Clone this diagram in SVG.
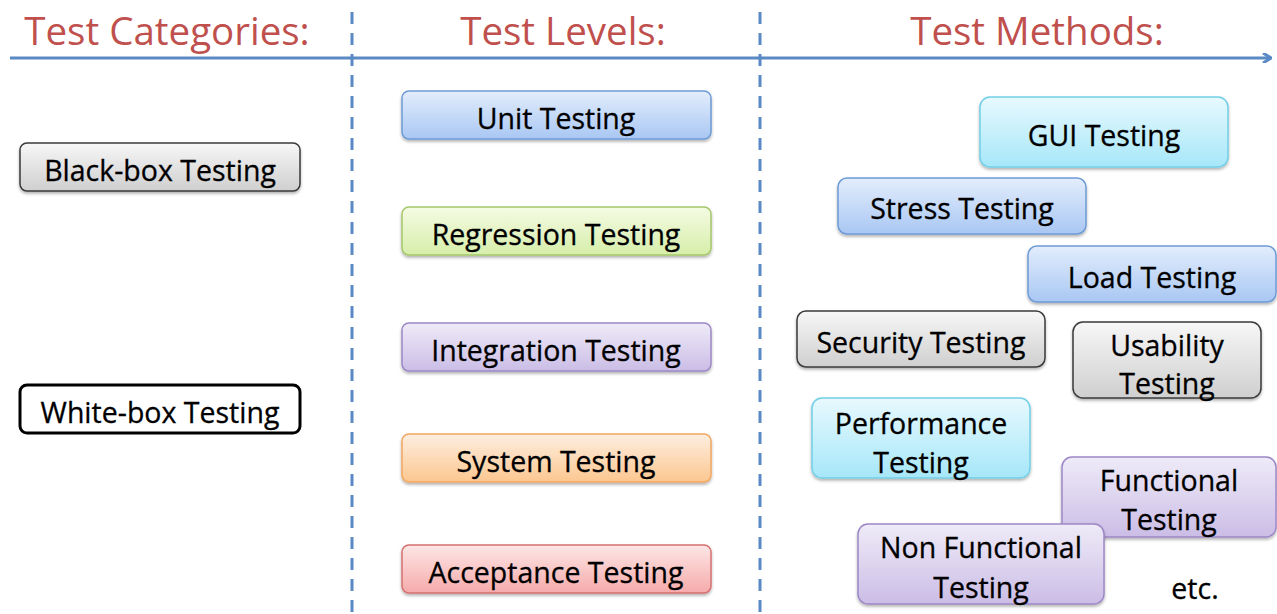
<svg xmlns="http://www.w3.org/2000/svg" width="1277" height="614" viewBox="0 0 1277 614">
<defs>
<linearGradient id="gGray" x1="0" y1="0" x2="0" y2="1"><stop offset="0" stop-color="#f7f7f7"/><stop offset="1" stop-color="#cfcfcf"/></linearGradient>
<linearGradient id="gBlue" x1="0" y1="0" x2="0" y2="1"><stop offset="0" stop-color="#e3edfc"/><stop offset="1" stop-color="#a9c7f3"/></linearGradient>
<linearGradient id="gGreen" x1="0" y1="0" x2="0" y2="1"><stop offset="0" stop-color="#f5fbe3"/><stop offset="1" stop-color="#d6eeaa"/></linearGradient>
<linearGradient id="gPurple" x1="0" y1="0" x2="0" y2="1"><stop offset="0" stop-color="#efebf8"/><stop offset="1" stop-color="#cbbde6"/></linearGradient>
<linearGradient id="gOrange" x1="0" y1="0" x2="0" y2="1"><stop offset="0" stop-color="#fdeee0"/><stop offset="1" stop-color="#fcc790"/></linearGradient>
<linearGradient id="gRed" x1="0" y1="0" x2="0" y2="1"><stop offset="0" stop-color="#fde6e6"/><stop offset="1" stop-color="#f6aaaa"/></linearGradient>
<linearGradient id="gCyan" x1="0" y1="0" x2="0" y2="1"><stop offset="0" stop-color="#e8f9fe"/><stop offset="1" stop-color="#a6e7f9"/></linearGradient>
<filter id="sh" x="-10%" y="-20%" width="120%" height="150%"><feDropShadow dx="0" dy="2" stdDeviation="1.5" flood-color="#000" flood-opacity="0.3"/></filter>
<marker id="arr" markerWidth="10" markerHeight="10" refX="8" refY="5" orient="auto" markerUnits="userSpaceOnUse"><path d="M1,0 L9,5 L1,10" fill="none" stroke="#5a8ac6" stroke-width="3"/></marker>
</defs>
<style>
.t{font-family:"Open Sans",Lato,"Liberation Sans",sans-serif;font-size:28.5px;fill:#000;stroke:#000;stroke-width:0.3;text-anchor:middle}
.h{font-family:"Open Sans",Lato,"Liberation Sans",sans-serif;font-size:38.5px;fill:#c0504d;text-anchor:middle}
.b{stroke-width:1.5}
.gray{fill:url(#gGray);stroke:#3a3a3a}
.blue{fill:url(#gBlue);stroke:#6e9bd6}
.green{fill:url(#gGreen);stroke:#a5c76a}
.purple{fill:url(#gPurple);stroke:#9d88c6}
.orange{fill:url(#gOrange);stroke:#f2a760}
.red{fill:url(#gRed);stroke:#d67070}
.cyan{fill:url(#gCyan);stroke:#72cfe5}
</style>
<rect width="1277" height="614" fill="#fff"/>
<g id="connectors" stroke="#5a8ac6" stroke-width="3" fill="none">
<line x1="10" y1="58" x2="1270" y2="58" marker-end="url(#arr)"/>
<line x1="352" y1="12" x2="352" y2="614" stroke-dasharray="12 9"/>
<line x1="760" y1="12" x2="760" y2="614" stroke-dasharray="12 9"/>
</g>
<g id="headers">
<text class="h" x="167" y="45">Test Categories:</text>
<text class="h" x="563" y="45">Test Levels:</text>
<text class="h" x="1037" y="45">Test Methods:</text>
</g>
<g id="black-box"><rect class="b gray" x="20" y="143" width="280" height="48" rx="7" filter="url(#sh)"/><text class="t" x="160" y="181">Black-box Testing</text></g>
<g id="white-box"><rect x="20" y="385" width="280" height="48" rx="7" fill="#fff" stroke="#000" stroke-width="3"/><text class="t" x="160" y="423">White-box Testing</text></g>
<g id="unit"><rect class="b blue" x="402" y="91" width="309" height="48" rx="7" filter="url(#sh)"/><text class="t" x="556" y="129">Unit Testing</text></g>
<g id="regression"><rect class="b green" x="402" y="207" width="309" height="48" rx="7" filter="url(#sh)"/><text class="t" x="556" y="245">Regression Testing</text></g>
<g id="integration"><rect class="b purple" x="402" y="323" width="309" height="48" rx="7" filter="url(#sh)"/><text class="t" x="556" y="361">Integration Testing</text></g>
<g id="system"><rect class="b orange" x="402" y="434" width="309" height="48" rx="7" filter="url(#sh)"/><text class="t" x="556" y="472">System Testing</text></g>
<g id="acceptance"><rect class="b red" x="402" y="545" width="309" height="48" rx="7" filter="url(#sh)"/><text class="t" x="556" y="583">Acceptance Testing</text></g>
<g id="gui"><rect class="b cyan" x="980" y="97" width="248" height="70" rx="10" filter="url(#sh)"/><text class="t" x="1104" y="146">GUI Testing</text></g>
<g id="stress"><rect class="b blue" x="838" y="178" width="248" height="56" rx="9" filter="url(#sh)"/><text class="t" x="962" y="219">Stress Testing</text></g>
<g id="load"><rect class="b blue" x="1028" y="246" width="248" height="56" rx="9" filter="url(#sh)"/><text class="t" x="1152" y="288">Load Testing</text></g>
<g id="security"><rect class="b gray" x="797" y="311" width="248" height="56" rx="9" filter="url(#sh)"/><text class="t" x="921" y="353">Security Testing</text></g>
<g id="usability"><rect class="b gray" x="1073" y="322" width="188" height="76" rx="10" filter="url(#sh)"/><text class="t" x="1167" y="356">Usability</text><text class="t" x="1167" y="394">Testing</text></g>
<g id="performance"><rect class="b cyan" x="812" y="398" width="218" height="80" rx="10" filter="url(#sh)"/><text class="t" x="921" y="434">Performance</text><text class="t" x="921" y="473">Testing</text></g>
<g id="functional"><rect class="b purple" x="1062" y="457" width="214" height="80" rx="10" filter="url(#sh)"/><text class="t" x="1169" y="491">Functional</text><text class="t" x="1169" y="530">Testing</text></g>
<g id="non-functional"><rect class="b purple" x="858" y="524" width="246" height="80" rx="10" filter="url(#sh)"/><text class="t" x="981" y="558">Non Functional</text><text class="t" x="981" y="598">Testing</text></g>
<g id="etc"><text class="t" x="1195" y="599">etc.</text></g>
</svg>
